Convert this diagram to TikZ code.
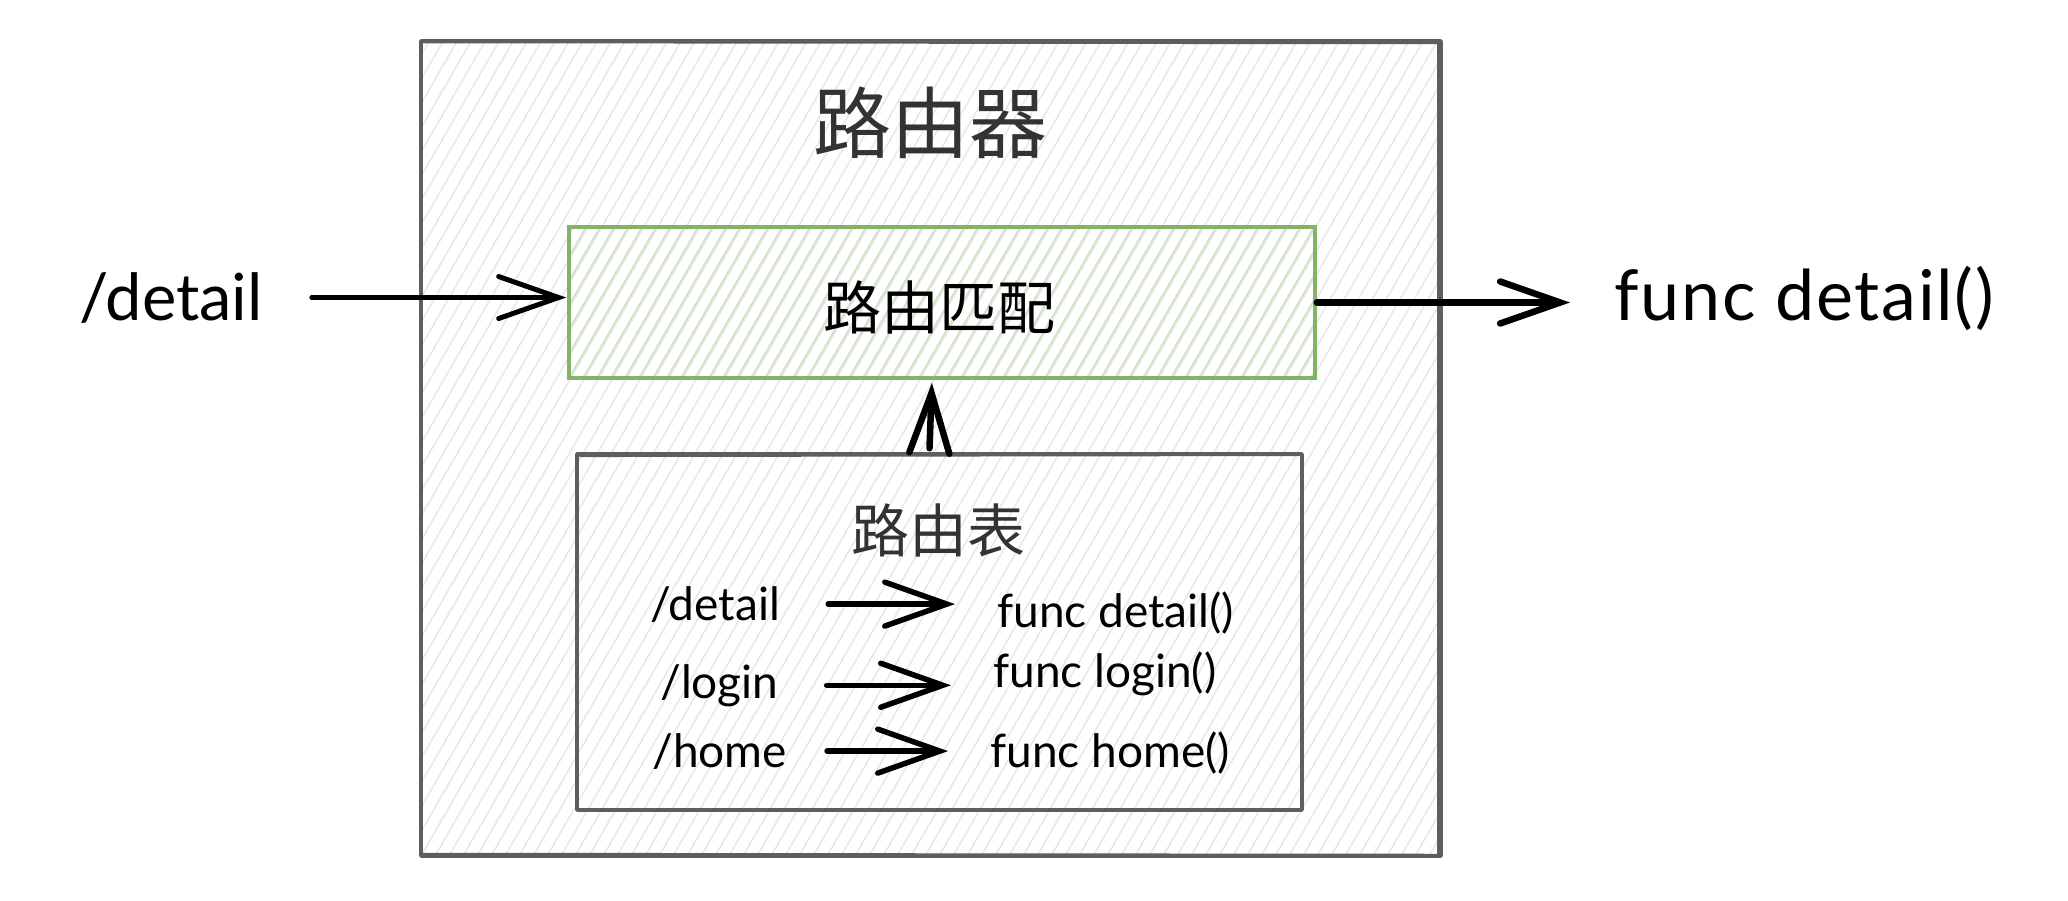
\documentclass[tikz,border=0pt]{standalone}
\usepackage{fontspec}
\setmainfont{Lato}
\newfontfamily\cjk{Noto Sans CJK SC}
\usetikzlibrary{arrows.meta}
\definecolor{boxgray}{HTML}{5E5E5E}
\definecolor{hatchgray}{HTML}{E8E8E8}
\definecolor{grn}{HTML}{82B366}
\definecolor{hatchgrn}{HTML}{CCE3C4}
\definecolor{titlegray}{HTML}{333333}
\begin{document}
\begin{tikzpicture}[x=1pt,y=-1pt,
  frame/.style={draw=boxgray,line width=3.5pt,line join=round},
  greenframe/.style={draw=grn,line width=3.6pt},
  hatchlines/.style={path picture={
     \foreach \k in {-45,...,80}{
       \draw[draw=#1,line width=1.6pt]
         ([xshift=\k*14pt]path picture bounding box.south west) -- ++(600,-1040);}}},
  boxnode/.style={rectangle,inner sep=0pt},
  txt/.style={inner sep=0pt,anchor=base west,text=black},
  bigtxt/.style={txt,font=\fontsize{65}{70}\selectfont},
  smalltxt/.style={txt,font=\fontsize{46}{50}\selectfont},
  cjktitle/.style={inner sep=0pt,text=titlegray},
  conn/.style={draw=black,line width=5pt,line cap=round,
     -{Straight Barb[length=60pt,width=42pt,line cap=round]}},
  rowconn/.style={draw=black,line width=5.5pt,line cap=round,
     -{Straight Barb[length=62pt,width=44pt,line cap=round]},
     shorten <=48pt, shorten >=42pt}
]
\useasboundingbox (0,0) rectangle (2068,900);

% outer box (router)
\node[boxnode,frame,hatchlines=hatchgray,minimum width=1020pt,minimum height=815pt]
  (router) at (931,448.5) {};
\draw[draw=boxgray,line width=2pt] ([xshift=3pt,yshift=-3pt]router.north west) -- ([xshift=-3pt,yshift=-4pt]router.north east);
\draw[draw=boxgray,line width=2pt] ([xshift=-5pt,yshift=-4pt]router.north east) -- ([xshift=-5pt,yshift=4pt]router.south east);
\draw[draw=boxgray,line width=2pt] ([xshift=2pt,yshift=4pt]router.south west) -- ([xshift=-4pt,yshift=3pt]router.south east);

\node[cjktitle,font=\cjk\fontsize{78}{80}\selectfont] (title) at (930,123) {路由器};

% green matching box
\node[boxnode,greenframe,hatchlines=hatchgrn,minimum width=746pt,minimum height=151pt] (match) at (942,302.5) {};
\node[inner sep=0pt,font=\cjk\fontsize{58}{60}\selectfont,text=black] (matchlabel) at (939,307) {路由匹配};

% routing table box
\node[boxnode,frame,minimum width=725pt,minimum height=356pt] (table) at (939.5,632) {};
\draw[draw=boxgray,line width=1.6pt] ([xshift=4pt,yshift=-4pt]table.north west) -- ([xshift=-6pt,yshift=-3pt]table.north east);
\node[cjktitle,font=\cjk\fontsize{58}{60}\selectfont] (tabletitle) at (938,530) {路由表};

% outside texts
\node[bigtxt] (lpath) at (79,320) {/detail};
\node[txt,font=\fontsize{70}{74}\selectfont\addfontfeatures{LetterSpace=2.5}] (rfunc) at (1614,320) {func detail()};

% table rows
\node[smalltxt] (p1) at (650,620) {/detail};
\node[smalltxt] (f1) at (997,627) {func detail()};
\node[smalltxt] (p2) at (660,698) {/login};
\node[smalltxt] (f2) at (993,687) {func login()};
\node[smalltxt] (p3) at (652,767) {/home};
\node[smalltxt] (f3) at (990,767) {func home()};

% connectors
\draw[conn,shorten <=49pt,shorten >=1pt] (lpath.east) -- (lpath.east -| match.west);
\draw[conn,line width=6.5pt,shorten >=44pt] (match.east) -- (match.east -| rfunc.west);
\draw[conn,line width=6.5pt,-{Straight Barb[length=60pt,width=40pt,line cap=round]},shorten >=3pt]
  ([xshift=-10pt,yshift=4pt]table.north) -- ([xshift=-10pt]match.south);

\draw[rowconn] (p1.east) -- (p1.east -| f1.west);
\draw[rowconn] (p2.east) -- (p2.east -| f2.west);
\draw[rowconn,shorten <=40pt] (p3.east) -- (p3.east -| f3.west);
\end{tikzpicture}
\end{document}
